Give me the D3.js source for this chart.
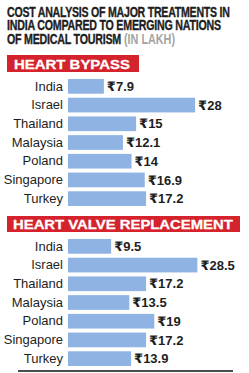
<!DOCTYPE html>
<html>
<head>
<meta charset="utf-8">
<script src="https://cdn.jsdelivr.net/npm/d3@7"></script>
<style>
  html, body { margin: 0; padding: 0; background: #ffffff; }
  svg { display: block; }
</style>
</head>
<body>
<svg id="chart" width="249" height="373"></svg>
<script>
// ---- data ----
const categories = ["India", "Israel", "Thailand", "Malaysia", "Poland", "Singapore", "Turkey"];
const bypassValues = [7.9, 28, 15, 12.1, 14, 16.9, 17.2];
const valveValues = [9.5, 28.5, 17.2, 13.5, 19, 17.2, 13.9];
const bypassLabels = ["₹7.9", "₹28", "₹15", "₹12.1", "₹14", "₹16.9", "₹17.2"];
const valveLabels = ["₹9.5", "₹28.5", "₹17.2", "₹13.5", "₹19", "₹17.2", "₹13.9"];
const titleLines = ["COST ANALYSIS OF MAJOR TREATMENTS IN", "INDIA COMPARED TO EMERGING NATIONS", "OF MEDICAL TOURISM"];
const unitLabel = "(IN LAKH)";
const sectionTitles = ["HEART BYPASS", "HEART VALVE REPLACEMENT"];

// ---- styles ----
const barColor = "#8fb4e3";
const red = "#d4232c";
const ink = "#1e1e1e";
const fontMain = "'Liberation Sans', Arial, 'Noto Sans', 'DejaVu Sans', sans-serif";

const svg = d3.select("#chart");

// condense a text horizontally so that it spans the target width
function condense(sel, x0, y0, target) {
  const L = sel.node().getComputedTextLength();
  const sx = Math.min(1.2, target / L);
  sel.attr("x", 0).attr("y", 0)
     .attr("transform", `translate(${x0},${y0}) scale(${sx},1)`);
}

// title
const titleFont = "'Liberation Sans', Arial, sans-serif";
const titleY = [16.5, 30.3, 44];
const titleW = [223, 214, 114];
titleLines.forEach((t, i) => {
  const s = svg.append("text")
    .style("font-family", titleFont).style("font-weight", "bold")
    .style("font-size", "14px").style("fill", ink)
    .style("stroke", ink).style("stroke-width", 0.35)
    .style("letter-spacing", "-0.3px")
    .text(t);
  condense(s, 7, titleY[i], titleW[i]);
});
const u = svg.append("text")
  .style("font-family", titleFont).style("font-weight", "bold")
  .style("font-size", "14px").style("fill", "#a3a3a3")
  .text(unitLabel);
condense(u, 124, 44, 51);

// x scale shared
const x = d3.scaleLinear().domain([0, 30]).range([68, 204.2]);

function section(title, banner, yRange, values, labels) {
  const g = svg.append("g");
  g.append("rect")
    .attr("x", banner.x).attr("y", banner.y)
    .attr("width", banner.w).attr("height", banner.h)
    .attr("fill", red);
  const bt = g.append("text")
    .style("font-family", fontMain).style("font-weight", "bold")
    .style("font-size", banner.fs + "px").style("fill", "#ffffff")
    .style("stroke", "#ffffff").style("stroke-width", 0.3)
    .text(title);
  condense(bt, banner.tx, banner.ty, banner.tw);

  const y = d3.scaleBand().domain(categories).range(yRange).paddingInner(0.214).paddingOuter(0.107);

  g.selectAll("rect.bar").data(values).join("rect")
    .attr("class", "bar")
    .attr("x", x(0))
    .attr("y", (d, i) => y(categories[i]))
    .attr("width", d => x(d) - x(0))
    .attr("height", y.bandwidth())
    .attr("fill", barColor);

  const yAxis = d3.axisLeft(y).tickSize(0).tickPadding(5);
  const ax = g.append("g").attr("transform", `translate(${x(0)},0)`).call(yAxis);
  ax.select(".domain").remove();
  ax.selectAll("text")
    .style("font-family", fontMain).style("font-size", "13px").style("fill", ink);

  g.selectAll("text.val").data(values).join("text")
    .attr("class", "val")
    .attr("x", d => x(d) + 3)
    .attr("y", (d, i) => y(categories[i]) + y.bandwidth() / 2)
    .attr("dy", "0.36em")
    .style("font-family", "'Liberation Sans', 'DejaVu Sans', 'Noto Sans', sans-serif")
    .style("font-weight", "bold").style("font-size", "13px").style("fill", ink)
    .text((d, i) => labels[i]);
}

section(sectionTitles[0], {x: 7, y: 55, w: 132, h: 17, tx: 14, ty: 68.5, tw: 116, fs: 13.5},
  [77, 208], bypassValues, bypassLabels);
section(sectionTitles[1], {x: 7, y: 216, w: 233, h: 16, tx: 13, ty: 229, tw: 220, fs: 13},
  [237, 368], valveValues, valveLabels);

// bottom rule
svg.append("line")
  .attr("x1", 18).attr("x2", 233).attr("y1", 371).attr("y2", 371)
  .attr("stroke", "#111").attr("stroke-width", 1.5);
</script>
</body>
</html>
